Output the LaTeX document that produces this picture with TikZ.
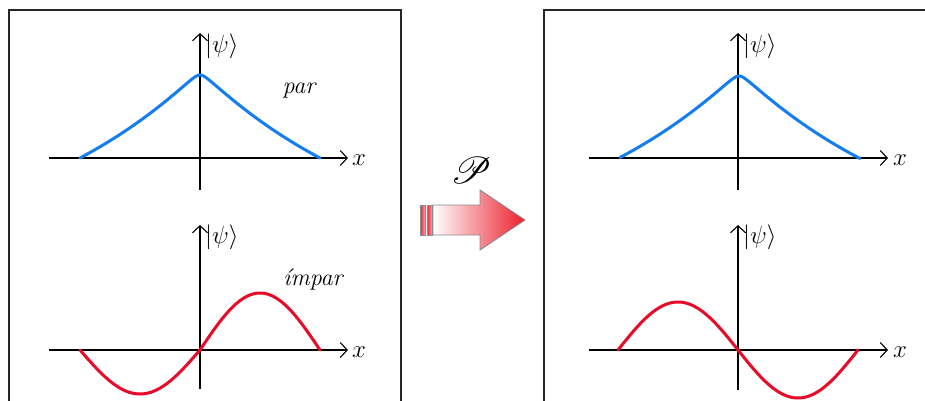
\documentclass[tikz,border=0pt]{standalone}
\usepackage{fontspec}
\usepackage{mathrsfs}
\usetikzlibrary{arrows.meta}
\definecolor{psiblue}{RGB}{20,125,240}
\definecolor{psired}{RGB}{232,10,40}
\definecolor{arrred}{RGB}{236,30,45}
\tikzset{
  frame/.style={draw=black!85, line width=1.6pt},
  axis/.style={draw=black, line width=1.1pt, -{Straight Barb[length=7pt,width=15pt,line width=1.1pt]}},
  evencurve/.style={draw=psiblue, line width=3pt, line cap=round},
  oddcurve/.style={draw=psired, line width=3pt, line cap=round},
  lbl/.style={inner sep=0pt, font=\fontsize{24}{28}\selectfont},
  psilbl/.style={inner sep=0pt, anchor=west, font=\fontsize{24}{28}\selectfont},
}
\begin{document}
\begin{tikzpicture}[x=1pt,y=-1pt]
\useasboundingbox (0,0) rectangle (925,401);
\clip (0,0) rectangle (925,401);
\fill[white] (0,0) rectangle (925,401);
% frames
\draw[frame] (9,420) -- (9,10) -- (401,10) -- (401,420);
\draw[frame] (544,420) -- (544,10) -- (940,10);
% coordinates for axes
\coordinate (LUx0) at (49,158);  \coordinate (LUx1) at (348,158);
\coordinate (LUy0) at (200,190); \coordinate (LUy1) at (200,33);
\coordinate (LLx0) at (49,350);  \coordinate (LLx1) at (348,350);
\coordinate (LLy0) at (200,389); \coordinate (LLy1) at (200,225);
\coordinate (RUx0) at (589,158); \coordinate (RUx1) at (888,158);
\coordinate (RUy0) at (738,190); \coordinate (RUy1) at (738,33);
\coordinate (RLx0) at (589,350); \coordinate (RLx1) at (888,350);
\coordinate (RLy0) at (738,390); \coordinate (RLy1) at (738,225);
% axes
\draw[axis] (LUx0) -- (LUx1);
\draw[axis] (LUy0) -- (LUy1);
\draw[axis] (LLx0) -- (LLx1);
\draw[axis] (LLy0) -- (LLy1);
\draw[axis] (RUx0) -- (RUx1);
\draw[axis] (RUy0) -- (RUy1);
\draw[axis] (RLx0) -- (RLx1);
\draw[axis] (RLy0) -- (RLy1);
% labels
\node[lbl] (xLU) at (359,160) {$x$};
\node[lbl] (xLL) at (359,352) {$x$};
\node[lbl] (xRU) at (900,160) {$x$};
\node[lbl] (xRL) at (900,352) {$x$};
\node[psilbl] (pLU) at (205,46) {$|\psi\rangle$};
\node[psilbl] (pLL) at (205,237) {$|\psi\rangle$};
\node[psilbl] (pRU) at (743,46) {$|\psi\rangle$};
\node[psilbl] (pRL) at (743,237) {$|\psi\rangle$};
\node[lbl, anchor=base] (par) at (299,94) {\itshape par};
\node[lbl, anchor=base] (impar) at (313,285) {\itshape ímpar};
\node[inner sep=0pt, scale=1.5, font=\fontsize{24.88}{28}\selectfont] (P) at (471,170) {$\mathscr{P}$};
% curves
\draw[evencurve] plot[domain=-120:120, samples=121, smooth]
  ({\x+200},{158-83*(exp(-0.005*(sqrt(\x*\x+25)-5))-exp(-0.005*(sqrt(14425)-5)))/(1-exp(-0.005*(sqrt(14425)-5)))});
\draw[evencurve] plot[domain=-119:121, samples=121, smooth]
  ({\x+739},{158-82*(exp(-0.005*(sqrt(\x*\x+25)-5))-exp(-0.005*(sqrt(14425)-5)))/(1-exp(-0.005*(sqrt(14425)-5)))});
\draw[oddcurve] plot[domain=-120:0, samples=61, smooth] ({\x+200},{350-44*sin(1.5*\x)});
\draw[oddcurve] plot[domain=0:120, samples=61, smooth] ({\x+200},{350-57*sin(1.5*\x)});
\draw[oddcurve] plot[domain=-120:120, samples=121, smooth] ({\x+738},{350+48*sin(1.5*\x)});
% block arrow
\shade[left color=white, right color=arrred, draw=black!45, line width=0.9pt]
  (433,205) -- (480,205) -- (480,190) -- (525,220) -- (480,250) -- (480,235) -- (433,235) -- cycle;
\shade[left color=arrred, right color=arrred!40, draw=black!45, line width=0.9pt] (420,205) rectangle (425,235);
\shade[left color=arrred, right color=arrred!40, draw=black!45, line width=0.9pt] (427,205) rectangle (432,235);
\end{tikzpicture}
\end{document}
